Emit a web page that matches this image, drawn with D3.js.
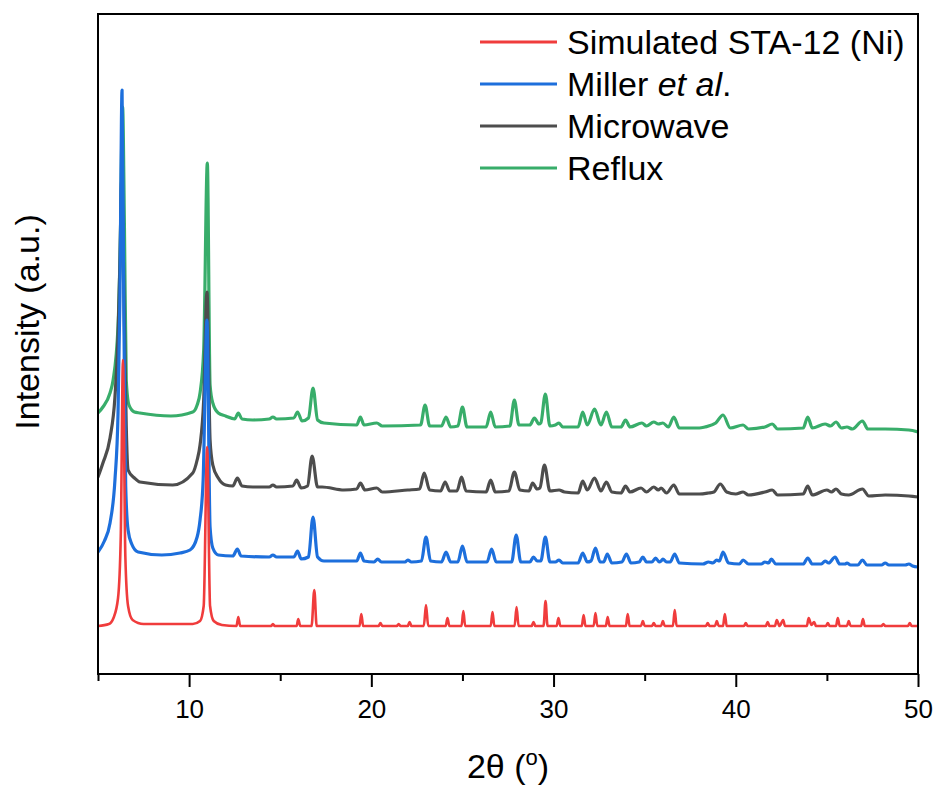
<!DOCTYPE html>
<html>
<head>
<meta charset="utf-8">
<script src="https://cdn.jsdelivr.net/npm/d3@7"></script>
<style>
  body { margin: 0; background: #fff; }
  svg { font-family: "Liberation Sans", Arial, sans-serif; }
</style>
</head>
<body>
<div id="chart"></div>
<script>
// series names (legend order)
const seriesNames = ["Simulated STA-12 (Ni)", "Miller et al.", "Microwave", "Reflux"];

// vertical offsets used to stack the patterns (a.u.)
const offsets = [0, 60, 130, 195];

// [2theta, intensity]
const simulated = [[5.0,0],[5.6,2],[5.85,8],[6.1,28],[6.25,90],[6.37,266],[6.5,70],[6.65,20],[6.9,6],[7.5,2],[10.2,2],[10.6,5],[10.8,20],[10.99,179],[11.15,20],[11.35,5],[11.8,1],
  [12.6,0],[12.7,9],[12.8,0],[14.5,0],[14.6,2],[14.7,0],[15.9,0],[15.99,7],[16.1,0],[16.72,0],[16.87,36],[17.0,0],
  [19.35,0],[19.45,12],[19.55,0],[20.4,0],[20.5,3],[20.6,0],[21.4,0],[21.5,2],[21.6,0],[22.0,0],[22.1,4],[22.2,0],
  [22.88,0],[23.0,21],[23.12,0],[24.08,0],[24.18,8],[24.28,0],[24.95,0],[25.05,15],[25.15,0],[26.55,0],[26.65,14],[26.75,0],
  [27.86,0],[27.97,19],[28.08,0],[28.8,0],[28.9,4],[29.0,0],[29.45,0],[29.56,25],[29.67,0],[30.17,0],[30.27,8],[30.37,0],
  [31.55,0],[31.65,11],[31.75,0],[32.2,0],[32.3,13],[32.4,0],[32.87,0],[32.97,9],[33.07,0],[33.97,0],[34.07,12],[34.17,0],
  [34.8,0],[34.9,5],[35.0,0],[35.4,0],[35.5,3],[35.6,0],[35.9,0],[36.0,5],[36.1,0],[36.55,0],[36.65,16],[36.75,0],
  [38.36,0],[38.46,3],[38.56,0],[38.86,0],[38.96,5],[39.06,0],[39.3,0],[39.4,12],[39.5,0],[40.45,0],[40.55,3],[40.65,0],
  [41.65,0],[41.75,4],[41.85,0],[42.15,0],[42.25,6],[42.4,0],[42.6,6],[42.7,0],[43.9,0],[44.0,8],[44.15,1],[44.3,4],[44.4,0],
  [44.95,0],[45.05,3],[45.15,0],[45.5,0],[45.6,8],[45.7,0],[46.1,0],[46.2,5],[46.3,0],[46.88,0],[46.98,7],[47.08,0],
  [48.0,0],[48.1,2],[48.2,0],[49.45,0],[49.55,3],[49.65,0],[50,0]];

const miller = [[5.0,14],[5.35,25],[5.66,43],[5.93,86],[6.1,153],[6.2,266],[6.32,476],[6.42,250],[6.52,80],[6.65,36],[6.85,22],[7.2,14],[8.5,11],[9.5,13],
  [10.05,16],[10.44,29],[10.6,46],[10.77,86],[10.98,246],[11.15,39],[11.3,18],[11.6,11],[12.4,10],[12.65,17],[12.85,10],
  [14.4,9],[14.6,11],[14.8,9],[15.75,9],[15.95,15],[16.15,7],[16.55,9],[16.8,49],[17.05,9],[17.4,5],[19.2,5],[19.4,13],[19.6,5],
  [20.15,4],[20.35,7],[20.55,4],[21.85,4],[22.0,6],[22.2,4],[22.75,5],[23.0,29],[23.25,5],[23.85,4],[24.1,14],[24.35,4],
  [24.75,4],[25.0,20],[25.25,4],[26.35,4],[26.6,17],[26.85,4],[27.7,4],[27.95,31],[28.2,4],[28.7,4],[28.9,9],[29.1,5],
  [29.3,5],[29.55,29],[29.8,4],[30.1,4],[30.3,6],[30.5,3],[31.35,3],[31.6,13],[31.85,4],[32.05,5],[32.3,18],[32.55,4],
  [32.75,4],[32.95,12],[33.2,3],[33.75,4],[34.0,12],[34.25,3],[34.7,4],[34.9,9],[35.1,4],[35.4,4],[35.6,8],[35.8,4],
  [35.9,5],[36.0,7],[36.2,4],[36.4,4],[36.65,12],[36.9,3],[38.2,2],[38.5,4],[38.75,3],[38.95,6],[39.1,5],[39.3,14],[39.6,3],
  [40.2,2],[40.4,6],[40.7,2],[41.4,2],[41.6,4],[41.8,3],[41.95,7],[42.2,2],[43.7,2],[43.95,8],[44.2,2],[44.7,2],[44.9,5],
  [45.1,3],[45.45,9],[45.7,2],[46.0,2],[46.1,3],[46.3,1],[46.7,1],[46.95,6],[47.2,1],[48.0,1],[48.2,3],[48.4,1],[49.3,1],
  [49.5,2],[49.7,0],[50,-1]];

const microwave = [[5.0,19],[5.27,33],[5.66,58],[5.93,99],[6.1,160],[6.2,230],[6.3,316],[6.45,170],[6.55,70],[6.65,26],[7.0,18],[7.3,14],[9.1,11],
  [10.2,23],[10.44,36],[10.6,51],[10.8,96],[10.98,204],[11.15,56],[11.3,31],[11.6,18],[12.0,11],[12.4,10],[12.65,18],[12.9,10],
  [13.5,9],[14.4,9],[14.6,11],[14.8,9],[15.7,10],[15.9,16],[16.15,8],[16.5,10],[16.75,40],[17.05,9],[17.3,9],[18.5,6],
  [19.2,7],[19.4,13],[19.65,6],[20.3,8],[20.6,4],[22.0,6],[22.65,7],[22.9,23],[23.2,6],[23.8,5],[24.05,14],[24.3,5],
  [24.7,5],[24.95,19],[25.2,5],[26.3,4],[26.55,16],[26.8,4],[27.55,5],[27.85,24],[28.15,6],[28.65,5],[28.85,13],[29.1,7],
  [29.25,8],[29.5,31],[29.8,5],[30.3,6],[30.6,4],[31.35,3],[31.6,15],[31.85,6],[32.25,18],[32.6,5],[32.9,14],[33.2,4],
  [33.7,3],[33.95,10],[34.2,4],[34.8,8],[35.1,4],[35.5,9],[35.75,6],[35.9,8],[36.2,3],[36.6,11],[36.9,2],[38.0,2],
  [38.5,3],[38.8,4],[39.15,12],[39.5,4],[40.0,2],[40.4,4],[40.7,1],[41.6,4],[42.0,6],[42.3,1],[43.7,2],[43.95,10],[44.2,1],
  [45.0,6],[45.25,4],[45.5,7],[45.8,2],[46.2,1],[46.95,7],[47.3,0],[48.2,1],[49.5,0],[50,-1]];

const reflux = [[5.0,18],[5.27,24],[5.66,38],[5.83,51],[6.1,105],[6.22,185],[6.35,324],[6.45,205],[6.55,51],[6.7,26],[7.0,19],[7.3,18],[9.0,15],
  [10.2,19],[10.44,26],[10.6,38],[10.8,81],[11.0,268],[11.15,46],[11.3,28],[11.6,18],[12.0,15],[12.5,12],[12.7,18],[12.9,12],
  [13.5,11],[14.4,12],[14.6,14],[14.8,12],[15.75,13],[15.95,19],[16.2,10],[16.55,13],[16.8,43],[17.05,11],[17.4,8],
  [19.2,6],[19.4,14],[19.6,6],[20.3,8],[20.6,5],[22.7,6],[22.95,26],[23.2,5],[23.85,5],[24.1,14],[24.35,4],[24.75,5],
  [25.0,24],[25.25,4],[26.3,4],[26.55,19],[26.8,4],[27.6,5],[27.85,31],[28.1,6],[28.7,6],[28.95,13],[29.2,7],[29.3,8],
  [29.55,37],[29.8,5],[30.1,6],[30.3,8],[30.5,4],[31.35,4],[31.6,19],[31.85,6],[32.25,22],[32.6,6],[32.9,19],[33.2,4],
  [33.7,4],[33.95,11],[34.2,4],[34.85,8],[35.1,5],[35.5,9],[35.75,7],[36.0,8],[36.3,4],[36.6,14],[36.9,3],[38.0,3],
  [38.3,4],[38.9,8],[39.3,16],[39.7,3],[40.4,6],[40.7,2],[41.6,4],[42.0,7],[42.3,2],[43.7,3],[43.95,14],[44.2,3],
  [44.9,7],[45.2,5],[45.5,9],[45.8,3],[46.1,4],[46.4,2],[46.95,10],[47.25,2],[48.2,2],[49.5,1],[50,-1]];

const xTicks = [10, 20, 30, 40, 50];
const xMinorTicks = [5, 15, 25, 35, 45];

const colors = ["#f03c3c", "#1d6fdc", "#4d4d4d", "#38ad6a"];
const allSeries = [simulated, miller, microwave, reflux];

// layout
const W = 937, H = 785;
const margin = {top: 14, right: 19, bottom: 111, left: 98};
const plotW = W - margin.left - margin.right;
const plotH = H - margin.top - margin.bottom;

const svg = d3.select("#chart").append("svg")
    .attr("width", W)
    .attr("height", H);

const g = svg.append("g")
    .attr("transform", "translate(" + margin.left + "," + margin.top + ")");

const x = d3.scaleLinear().domain([5, 50]).range([0, plotW]);
const y = d3.scaleLinear().domain([-48, 612]).range([plotH, 0]);

g.append("clipPath").attr("id", "clip")
  .append("rect").attr("width", plotW).attr("height", plotH);

const line = d3.line()
    .x(d => x(d[0]))
    .y(d => y(d[1]))
    .curve(d3.curveMonotoneX);

// drawn from the top pattern down so the simulated one sits on top
[3, 2, 1, 0].forEach(i => {
  g.append("path")
    .datum(allSeries[i].map(d => [d[0], d[1] + offsets[i]]))
    .attr("clip-path", "url(#clip)")
    .attr("fill", "none")
    .attr("stroke", colors[i])
    .attr("stroke-width", i == 0 ? 2.6 : 3.2)
    .attr("stroke-linejoin", "round")
    .attr("stroke-linecap", "round")
    .attr("d", line);
});

// frame
g.append("rect")
  .attr("width", plotW)
  .attr("height", plotH)
  .attr("fill", "none")
  .attr("stroke", "#000")
  .attr("stroke-width", 2);

// x axis: major + minor ticks
const xAxis = g.append("g")
    .attr("transform", "translate(0," + plotH + ")")
    .call(d3.axisBottom(x).tickValues(xTicks).tickSize(13).tickPadding(13).tickFormat(d3.format("d")));
xAxis.select(".domain").remove();
xAxis.selectAll("line").attr("stroke-width", 2);
xAxis.selectAll("text")
  .attr("font-size", 26)
  .attr("font-family", "Liberation Sans, Arial, sans-serif")
  .attr("fill", "#000");

g.append("g")
  .attr("transform", "translate(0," + plotH + ")")
  .call(d3.axisBottom(x).tickValues(xMinorTicks).tickSize(7).tickFormat(""))
  .call(a => a.select(".domain").remove())
  .selectAll("line").attr("stroke-width", 2);

// axis titles
const xTitle = svg.append("text")
  .attr("x", margin.left + plotW / 2)
  .attr("y", 778)
  .attr("text-anchor", "middle")
  .attr("font-size", 34);
xTitle.append("tspan").text("2θ (");
xTitle.append("tspan").attr("font-size", 22).attr("dy", -13).text("o");
xTitle.append("tspan").attr("dy", 13).text(")");

svg.append("text")
  .attr("transform", "translate(39,322) rotate(-90)")
  .attr("text-anchor", "middle")
  .attr("font-size", 34)
  .text("Intensity (a.u.)");

// legend
const legend = svg.append("g").attr("transform", "translate(480,42)");
seriesNames.forEach((name, i) => {
  const row = legend.append("g").attr("transform", "translate(0," + i * 42 + ")");
  row.append("line")
    .attr("x1", 0).attr("x2", 77)
    .attr("stroke", colors[i])
    .attr("stroke-width", 3);
  const t = row.append("text")
    .attr("x", 87)
    .attr("dy", "0.35em")
    .attr("font-size", 34);
  if (name == "Miller et al.") {
    t.append("tspan").text("Miller ");
    t.append("tspan").attr("font-style", "italic").text("et al");
    t.append("tspan").text(".");
  } else {
    t.text(name);
  }
});
</script>
</body>
</html>
